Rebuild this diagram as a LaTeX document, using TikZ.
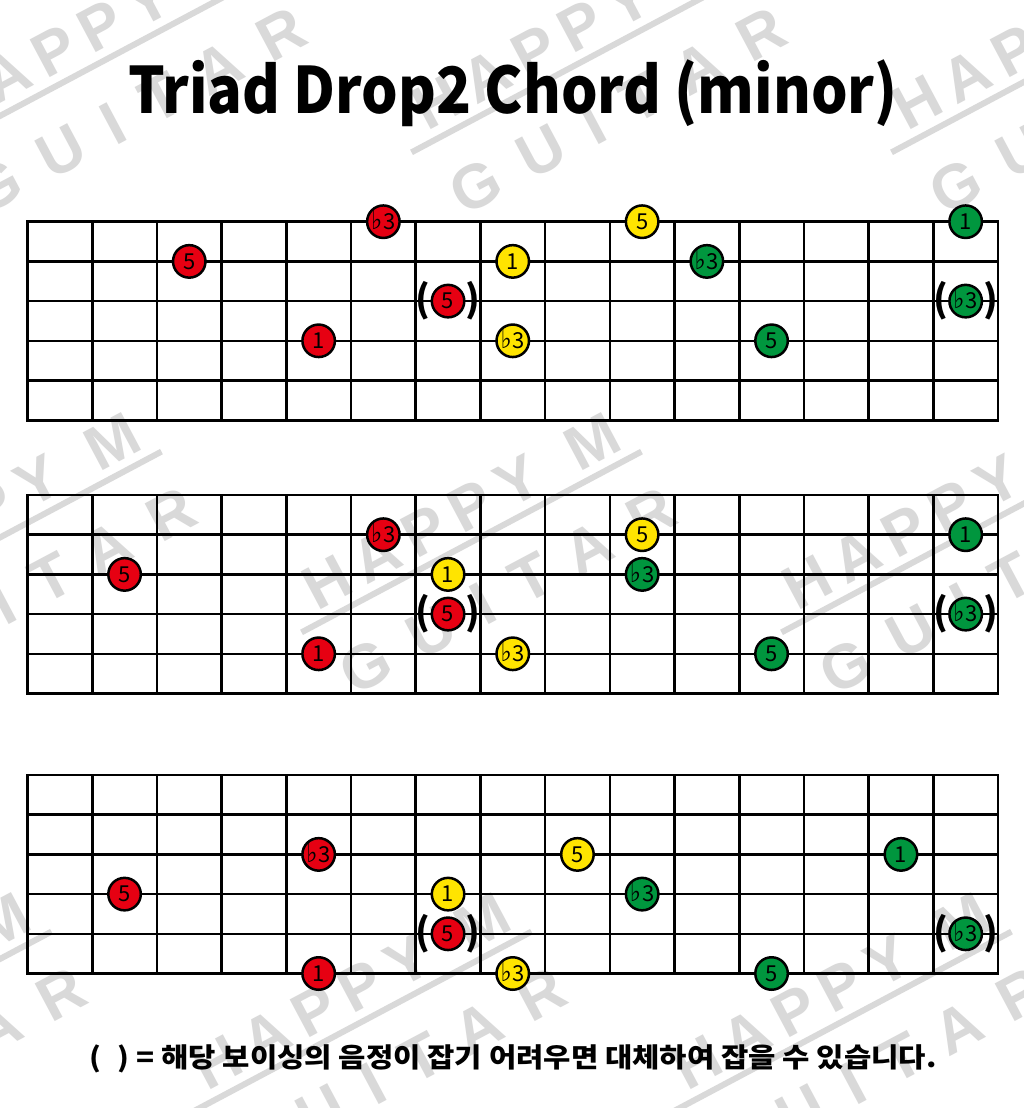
\documentclass[tikz,border=0pt]{standalone}
\usepackage{fontspec}
\setmainfont{Noto Sans CJK KR}
\newfontfamily\symfont{DejaVu Sans}
\newfontfamily\wmfont{Liberation Sans}[LetterSpace=18]
\newfontfamily\wmwidefont{Liberation Sans}[LetterSpace=44]
\usetikzlibrary{positioning}

\definecolor{noteRed}{RGB}{230,0,18}
\definecolor{noteYellow}{RGB}{255,228,0}
\definecolor{noteGreen}{RGB}{0,150,62}
\newcommand{\flt}{\smash{\scalebox{0.95}[1.1]{\symfont\fontsize{25}{25}\selectfont ♭}}\kern1pt}

\begin{document}
\begin{tikzpicture}
  [
    x = 1pt, y = -1pt,
    every node/.style = {inner sep=0pt},
    fret/.style = {line width=2.6pt, line cap=rect},
    notedot/.style = {draw, circle, line width=2.5pt, minimum size=32.5pt,
      font=\fontsize{22}{22}\selectfont},
    noteR/.style = {notedot, fill=noteRed},
    noteY/.style = {notedot, fill=noteYellow},
    noteG/.style = {notedot, fill=noteGreen},
    paren/.style = {font=\fontsize{37}{37}\selectfont\bfseries},
    wmtext/.style = {text=black!15, transform shape,
      font=\wmfont\fontsize{62}{62}\selectfont\bfseries},
    wmwide/.style = {wmtext, font=\wmwidefont\fontsize{62}{62}\selectfont\bfseries},
    wmline/.style = {draw=black!15, line width=6pt}
  ]
  \fill[white] (0,0) rectangle (1024,1108);
  \useasboundingbox (0,0) rectangle (1024,1108);

  % watermark
  \begin{scope}
    \clip (0,0) rectangle (1024,1108);
    \foreach \wx/\wy in {-57/110, 423/110, 903/110, -167/590, 313/590,
        793/590, -277/1070, 203/1070, 683/1070} {
      \begin{scope}[shift={(\wx,\wy)}, rotate=28]
        \node[wmtext] at (168,0) {HAPPY\hspace{10pt} M};
        \draw[wmline] (-30,32) -- (355,32);
        \node[wmwide] at (172,92) {GUITAR};
      \end{scope}
    }
  \end{scope}

  % fretboards
  \foreach \top in {221.7, 495, 775} {
    \draw[fret] (27.5,\top) rectangle (998,\top+198.5);
    \foreach \k in {1,...,14}
      \draw[fret] (27.5+64.7*\k,\top) -- (27.5+64.7*\k,\top+198.5);
    \foreach \s in {1,...,4}
      \draw[fret] (27.5,\top+39.7*\s) -- (998,\top+39.7*\s);
  }

  \node (title) [anchor=base, xscale=0.9, font=\fontsize{64}{64}\selectfont\bfseries]
    at (513,113) {Triad Drop2 Chord (minor)};

  % board A
  \node (A1)  [noteR] at (383.35,221.7) {\flt3};
  \node (A2)  [noteR] at (189.25,261.4) {5};
  \node (A3)  [noteR] at (318.65,340.8) {1};
  \node (A4)  [noteR] at (448.05,301.1) {5};
  \node (A5)  [noteY] at (512.75,261.4) {1};
  \node (A6)  [noteY] at (512.75,340.8) {\flt3};
  \node (A7)  [noteY] at (642.15,221.7) {5};
  \node (A8)  [noteG] at (706.85,261.4) {\flt3};
  \node (A9)  [noteG] at (771.55,340.8) {5};
  \node (A10) [noteG] at (965.65,221.7) {1};
  \node (A11) [noteG] at (965.65,301.1) {\flt3};

  % board B
  \node (B1)  [noteR] at (383.35,534.7) {\flt3};
  \node (B2)  [noteR] at (124.55,574.4) {5};
  \node (B3)  [noteR] at (318.65,653.8) {1};
  \node (B4)  [noteR] at (448.05,614.1) {5};
  \node (B5)  [noteY] at (448.05,574.4) {1};
  \node (B6)  [noteY] at (512.75,653.8) {\flt3};
  \node (B7)  [noteY] at (642.15,534.7) {5};
  \node (B8)  [noteG] at (642.15,574.4) {\flt3};
  \node (B9)  [noteG] at (771.55,653.8) {5};
  \node (B10) [noteG] at (965.65,534.7) {1};
  \node (B11) [noteG] at (965.65,614.1) {\flt3};

  % board C
  \node (C1)  [noteR] at (318.65,854.4) {\flt3};
  \node (C2)  [noteR] at (124.55,894.1) {5};
  \node (C3)  [noteR] at (318.65,973.5) {1};
  \node (C4)  [noteR] at (448.05,933.8) {5};
  \node (C5)  [noteY] at (448.05,894.1) {1};
  \node (C6)  [noteY] at (512.75,973.5) {\flt3};
  \node (C7)  [noteY] at (577.45,854.4) {5};
  \node (C8)  [noteG] at (642.15,894.1) {\flt3};
  \node (C9)  [noteG] at (771.55,973.5) {5};
  \node (C10) [noteG] at (900.95,854.4) {1};
  \node (C11) [noteG] at (965.65,933.8) {\flt3};

  % brackets for the optional notes
  \foreach \n in {A4, A11, B4, B11, C4, C11} {
    \node (\n l) [paren, left=0pt of \n]  {(};
    \node (\n r) [paren, right=0pt of \n] {)};
  }

  \node (legend) [anchor=base, xscale=1.1, font=\fontsize{27}{27}\selectfont\bfseries]
    at (513,1067) {(\hspace{0.55em}) = 해당 보이싱의 음정이 잡기 어려우면 대체하여 잡을 수 있습니다.};
\end{tikzpicture}
\end{document}
